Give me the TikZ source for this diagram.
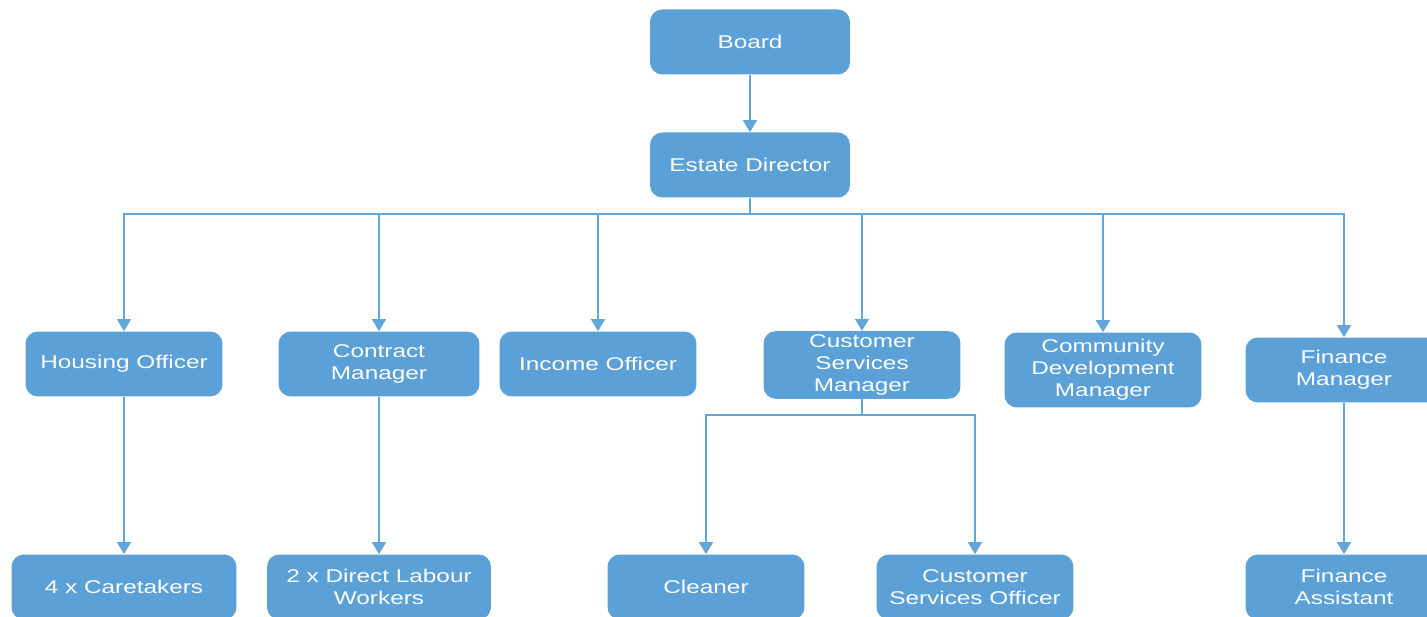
\documentclass[tikz,border=0pt]{standalone}
\usepackage{fontspec}
\setmainfont{Liberation Sans}[FakeStretch=1.32]
\usetikzlibrary{arrows.meta, positioning}
\definecolor{orgBlue}{HTML}{5BA0D6}
\definecolor{orgLine}{HTML}{62A6DA}
\tikzset{
  arrowB/.style={-{Triangle[length=2.4mm, width=2.8mm]}, draw=orgLine, line width=0.85pt},
  lineB/.style={draw=orgLine, line width=0.85pt},
  orgBox/.style={rectangle, rounded corners=7pt, fill=orgBlue, text=white,
                 align=center, font=\fontsize{10.5}{12.5}\selectfont,
                 inner sep=2pt, minimum width=3.94cm, minimum height=1.3cm},
}
\begin{document}
\begin{tikzpicture}[x=0.02cm, y=-0.02cm]
  \useasboundingbox (0,0) rectangle (1427,617);
  % top of the tree
  \node[orgBox, minimum width=4cm] (board) at (750,42) {Board};
  \node[orgBox, minimum width=4cm] (dir) at (750,165) {Estate Director};
  % officers and managers
  \node[orgBox] (ho) at (124,364) {Housing Officer};
  \node[orgBox, minimum width=4.02cm] (cm) at (379,364) {Contract\\Manager};
  \node[orgBox] (io) at (598,364) {Income Officer};
  \node[orgBox] (csm) at (862,365) {Customer\\Services\\Manager};
  \node[orgBox, minimum height=1.5cm] (cdm) at (1103,370) {Community\\Development\\Manager};
  \node[orgBox] (fm) at (1344,370) {Finance\\Manager};
  % staff
  \node[orgBox, minimum width=4.5cm] (ct) at (124,587) {4 x Caretakers};
  \node[orgBox, minimum width=4.48cm] (dl) at (379,587) {2 x Direct Labour\\Workers};
  \node[orgBox] (cl) at (706,587) {Cleaner};
  \node[orgBox] (cso) at (975,587) {Customer\\Services Officer};
  \node[orgBox] (fa) at (1344,587) {Finance\\Assistant};
  % connectors
  \coordinate (bus) at (750,214);
  \coordinate (csbus) at (862,415);
  \draw[arrowB] (board) -- (dir);
  \draw[lineB] (dir.south) -- (bus);
  \foreach \n in {ho, cm, io, csm, cdm, fm}
    \draw[arrowB] (bus) -| (\n.north);
  \draw[lineB] (csm.south) -- (csbus);
  \foreach \n in {cl, cso}
    \draw[arrowB] (csbus) -| (\n.north);
  \draw[arrowB] (ho) -- (ct);
  \draw[arrowB] (cm) -- (dl);
  \draw[arrowB] (fm) -- (fa);
\end{tikzpicture}
\end{document}
